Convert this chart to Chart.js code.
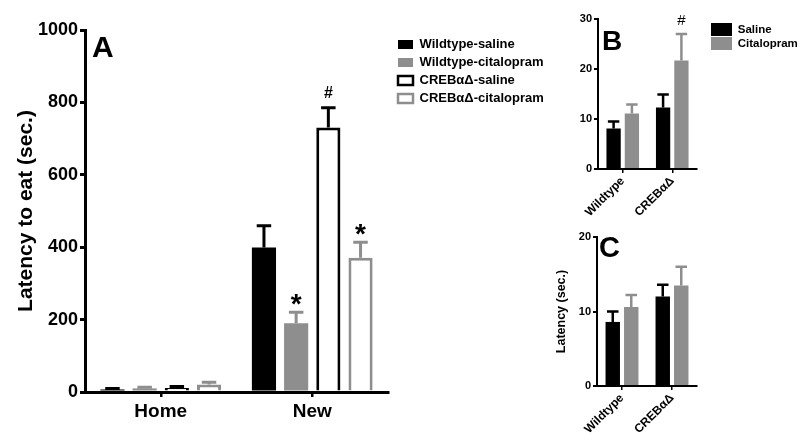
<!DOCTYPE html>
<html>
<head>
<meta charset="utf-8">
<script src="https://cdn.jsdelivr.net/npm/chart.js@4.4.0/dist/chart.umd.min.js"></script>
<style>
  body { margin: 0; background: #fff; }
  #wrap { position: relative; width: 800px; height: 440px; overflow: hidden; }
  canvas { position: absolute; }
</style>
</head>
<body>
<div id="wrap">
  <canvas id="chartA" width="560" height="440" style="left:0;top:0"></canvas>
  <canvas id="chartB" width="260" height="220" style="left:540px;top:0"></canvas>
  <canvas id="chartC" width="260" height="220" style="left:540px;top:220px"></canvas>
</div>
<script>
// ---- panel A data ----
const envLabels = ['Home', 'New'];
const groupNames = ['Wildtype-saline', 'Wildtype-citalopram', 'CREBαΔ-saline', 'CREBαΔ-citalopram'];
const wtSaline = [7, 399];
const wtSalineErr = [3, 60];
const wtCital = [10, 190];
const wtCitalErr = [3, 30];
const crebSaline = [11, 731];
const crebSalineErr = [4, 54];
const crebCital = [21, 371];
const crebCitalErr = [6, 43];
const marksA = [['', ''], ['', '*'], ['', '#'], ['', '*']];
const ticksA = [0, 200, 400, 600, 800, 1000];

// ---- panels B and C data ----
const genotypes = ['Wildtype', 'CREBαΔ'];
const treatNames = ['Saline', 'Citalopram'];
const bSaline = [8.1, 12.3];
const bSalineErr = [1.4, 2.6];
const bCital = [11.1, 21.7];
const bCitalErr = [1.8, 5.3];
const marksB = [['', ''], ['', '#']];
const ticksB = [0, 10, 20, 30];
const cSaline = [8.6, 12.0];
const cSalineErr = [1.4, 1.6];
const cCital = [10.6, 13.5];
const cCitalErr = [1.6, 2.5];
const ticksC = [0, 10, 20];

const BLACK = '#000000';
const GREY = '#8e8e8e';

Chart.defaults.font.family = '"Liberation Sans", Arial, sans-serif';
Chart.defaults.color = '#000';
Chart.defaults.animation = false;

// error bars (SEM, upward) + significance marks
const errorBars = {
  id: 'errorBars',
  afterDatasetsDraw(chart, args, opts) {
    const ctx = chart.ctx;
    const y = chart.scales.y;
    chart.data.datasets.forEach((ds, i) => {
      const meta = chart.getDatasetMeta(i);
      meta.data.forEach((bar, j) => {
        const top = y.getPixelForValue(ds.data[j] + ds.errors[j]);
        const half = bar.width * opts.cap / 2;
        ctx.save();
        ctx.strokeStyle = ds.borderColor;
        ctx.lineWidth = opts.lineWidth;
        ctx.beginPath();
        ctx.moveTo(bar.x, bar.y);
        ctx.lineTo(bar.x, top);
        ctx.moveTo(bar.x - half, top);
        ctx.lineTo(bar.x + half, top);
        ctx.stroke();
        const m = ds.marks ? ds.marks[j] : '';
        if (m) {
          const st = opts.markStyle[m];
          ctx.fillStyle = '#000';
          ctx.font = st.font;
          ctx.textAlign = 'center';
          ctx.textBaseline = 'alphabetic';
          ctx.fillText(m, bar.x, top - st.dy);
        }
        ctx.restore();
      });
    });
  }
};

// panel letter + small legend offset
const panelDecor = {
  id: 'panelDecor',
  afterLayout(chart, args, opts) {
    if (chart.legend && opts.legendShift) {
      chart.legend.left += opts.legendShift[0];
      chart.legend.right += opts.legendShift[0];
      chart.legend.top += opts.legendShift[1];
      chart.legend.bottom += opts.legendShift[1];
    }
  },
  afterDraw(chart, args, opts) {
    const ctx = chart.ctx;
    const a = chart.chartArea;
    ctx.save();
    ctx.font = opts.font;
    ctx.fillStyle = '#000';
    ctx.textAlign = 'left';
    ctx.textBaseline = 'alphabetic';
    ctx.fillText(opts.letter, a.left + opts.at[0], a.top + opts.at[1]);
    ctx.restore();
  }
};

function yAxis(max, tickList, o) {
  return {
    min: 0, max: max, z: 1,
    afterFit: s => { s.width = o.width; },
    afterBuildTicks: s => { s.ticks = tickList.map(v => ({ value: v })); },
    border: { display: true, color: '#000', width: o.line },
    grid: { display: true, drawOnChartArea: false, drawTicks: true, tickLength: o.tickLen,
            color: '#000', lineWidth: o.line, tickWidth: o.line },
    ticks: { font: { size: o.font, weight: 'bold' }, padding: 2, color: '#000',
             callback: v => String(v) },
    title: o.title ? { display: true, text: o.title, font: { size: o.titleSize, weight: 'bold' },
                       color: '#000', padding: { top: o.titlePad, bottom: 0 } } : { display: false }
  };
}

function xAxis(o) {
  return {
    z: 1,
    afterFit: s => { s.height = o.height; },
    border: { display: true, color: '#000', width: o.line },
    grid: { display: true, drawOnChartArea: false, drawTicks: true, offset: false,
            tickLength: o.tickLen, color: '#000', lineWidth: o.line - 0.5, tickWidth: o.line - 0.5 },
    ticks: { font: { size: o.font, weight: 'bold' }, padding: o.pad, color: '#000', autoSkip: false,
             minRotation: o.rot, maxRotation: o.rot }
  };
}

// ---- Panel A ----
new Chart(document.getElementById('chartA'), {
  type: 'bar',
  data: {
    labels: envLabels,
    datasets: [
      { label: groupNames[0], data: wtSaline, errors: wtSalineErr, marks: marksA[0],
        backgroundColor: BLACK, borderColor: BLACK, borderWidth: 0 },
      { label: groupNames[1], data: wtCital, errors: wtCitalErr, marks: marksA[1],
        backgroundColor: GREY, borderColor: GREY, borderWidth: 0 },
      { label: groupNames[2], data: crebSaline, errors: crebSalineErr, marks: marksA[2],
        backgroundColor: '#fff', borderColor: BLACK, borderWidth: 3 },
      { label: groupNames[3], data: crebCital, errors: crebCitalErr, marks: marksA[3],
        backgroundColor: '#fff', borderColor: GREY, borderWidth: 3 }
    ]
  },
  options: {
    responsive: false,
    categoryPercentage: 0.85,
    barPercentage: 0.75,
    layout: { padding: { top: 30, left: 0, right: 22, bottom: 0 } },
    scales: {
      x: xAxis({ height: 48, line: 3, tickLen: 5, font: 19, pad: 3, rot: 0 }),
      y: yAxis(1000, ticksA, { width: 85, line: 3, tickLen: 5, font: 18,
                               title: 'Latency to eat (sec.)', titleSize: 21, titlePad: 14 })
    },
    plugins: {
      legend: {
        position: 'right', align: 'start', maxWidth: 150,
        labels: {
          boxWidth: 15, boxHeight: 9, padding: 5, color: '#000',
          font: { size: 13, weight: 'bold' },
          generateLabels: ch => Chart.defaults.plugins.legend.labels.generateLabels(ch)
            .map(l => Object.assign(l, { lineWidth: l.lineWidth ? 2.5 : 0 }))
        }
      },
      tooltip: { enabled: false },
      errorBars: { lineWidth: 3, cap: 0.6,
                   markStyle: { '*': { font: 'bold 28px "Liberation Sans", Arial', dy: -1 },
                                '#': { font: 'bold 16px "Liberation Sans", Arial', dy: 10 } } },
      panelDecor: { letter: 'A', font: 'bold 30px "Liberation Sans", Arial', at: [7, 27], legendShift: [5, 3] }
    }
  },
  plugins: [errorBars, panelDecor]
});

// ---- Panel B ----
new Chart(document.getElementById('chartB'), {
  type: 'bar',
  data: {
    labels: genotypes,
    datasets: [
      { label: treatNames[0], data: bSaline, errors: bSalineErr, marks: marksB[0],
        backgroundColor: BLACK, borderColor: BLACK, borderWidth: 0 },
      { label: treatNames[1], data: bCital, errors: bCitalErr, marks: marksB[1],
        backgroundColor: GREY, borderColor: GREY, borderWidth: 0 }
    ]
  },
  options: {
    responsive: false,
    categoryPercentage: 0.74,
    barPercentage: 0.78,
    layout: { padding: { top: 19, left: 0, right: 13, bottom: 0 } },
    scales: {
      x: xAxis({ height: 51, line: 2, tickLen: 4, font: 12, pad: 1, rot: 45 }),
      y: yAxis(30, ticksB, { width: 58, line: 2, tickLen: 4, font: 11 })
    },
    plugins: {
      legend: {
        position: 'right', align: 'start', maxWidth: 90,
        labels: { boxWidth: 21, boxHeight: 13, padding: 1, color: '#000',
                  font: { size: 11.5, weight: 'bold' } }
      },
      tooltip: { enabled: false },
      errorBars: { lineWidth: 2.5, cap: 0.8,
                   markStyle: { '#': { font: '15px "Liberation Sans", Arial', dy: 9 } } },
      panelDecor: { letter: 'B', font: 'bold 28px "Liberation Sans", Arial', at: [4, 31], legendShift: [13, 3] }
    }
  },
  plugins: [errorBars, panelDecor]
});

// ---- Panel C ----
new Chart(document.getElementById('chartC'), {
  type: 'bar',
  data: {
    labels: genotypes,
    datasets: [
      { label: treatNames[0], data: cSaline, errors: cSalineErr,
        backgroundColor: BLACK, borderColor: BLACK, borderWidth: 0 },
      { label: treatNames[1], data: cCital, errors: cCitalErr,
        backgroundColor: GREY, borderColor: GREY, borderWidth: 0 }
    ]
  },
  options: {
    responsive: false,
    categoryPercentage: 0.74,
    barPercentage: 0.78,
    layout: { padding: { top: 17, left: 0, right: 103, bottom: 0 } },
    scales: {
      x: xAxis({ height: 54, line: 2, tickLen: 4, font: 12, pad: 1, rot: 45 }),
      y: yAxis(20, ticksC, { width: 57, line: 2, tickLen: 4, font: 11,
                             title: 'Latency (sec.)', titleSize: 12.5, titlePad: 14 })
    },
    plugins: {
      legend: { display: false },
      tooltip: { enabled: false },
      errorBars: { lineWidth: 2.5, cap: 0.8, markStyle: {} },
      panelDecor: { letter: 'C', font: 'bold 29px "Liberation Sans", Arial', at: [2, 20] }
    }
  },
  plugins: [errorBars, panelDecor]
});
</script>
</body>
</html>
